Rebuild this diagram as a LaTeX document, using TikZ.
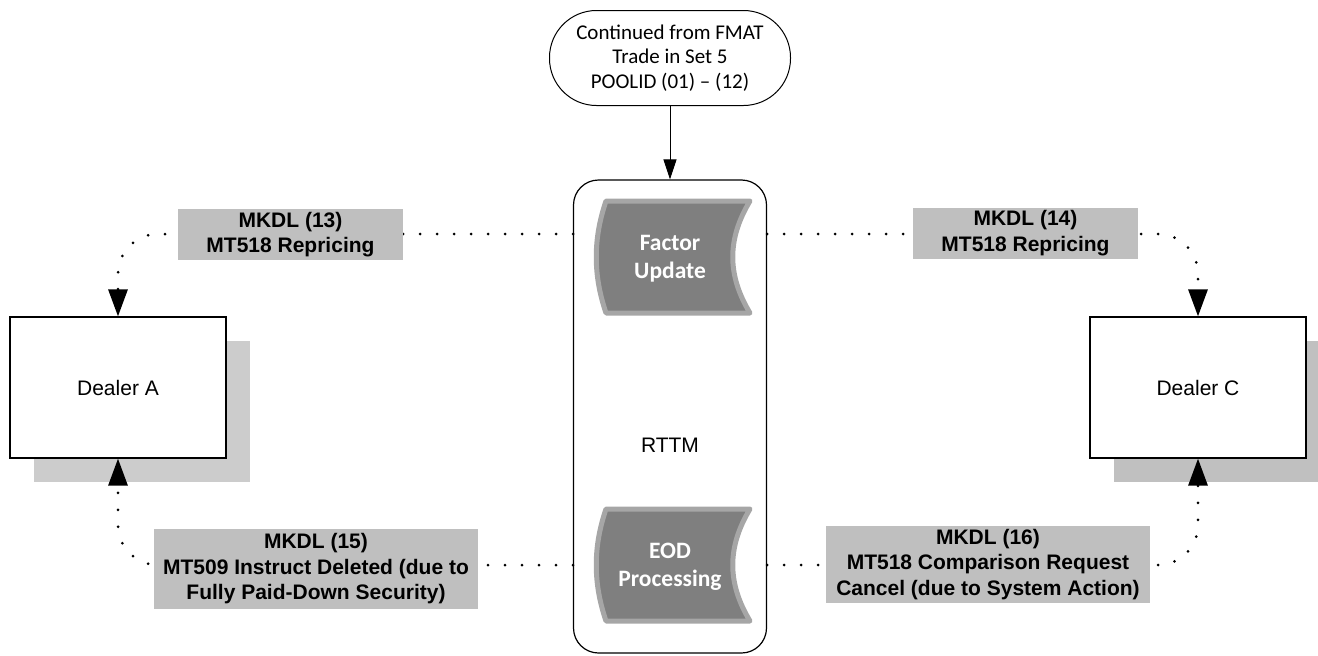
\documentclass[tikz,border=0pt]{standalone}
\usepackage{fontspec}
\setmainfont{Liberation Sans}
\newfontfamily\carlito{Carlito}
\usetikzlibrary{arrows.meta,shadows}
\definecolor{lblgray}{RGB}{191,191,191}
\definecolor{shadowA}{RGB}{204,204,204}
\definecolor{shadowC}{RGB}{192,192,192}
\definecolor{procfill}{RGB}{127,127,127}
\definecolor{procedge}{RGB}{166,166,166}

\tikzset{
  dealer/.style={draw, fill=white, line width=1.2pt, minimum width=216pt, minimum height=141pt,
    font=\fontsize{21}{25}\selectfont},
  msg/.style={fill=lblgray, align=center, inner sep=0pt, font=\bfseries\fontsize{21}{25.5}\selectfont},
  dots/.style={line width=3pt, line cap=round, dash pattern=on 0pt off 17pt, rounded corners=40pt,
    -{Triangle[length=27pt,width=19pt]}},
  proc/.style={draw=procedge, fill=procfill, line width=5pt, line join=round},
  proctext/.style={text=white, align=center, font=\carlito\bfseries\fontsize{23.5}{28}\selectfont}
}

\begin{document}
\begin{tikzpicture}[x=1pt, y=-1pt]
  \useasboundingbox (0,0) rectangle (1318,656);

  % start terminator and the RTTM lane
  \node[draw, line width=1pt, rounded corners=47pt, minimum width=241pt, minimum height=95pt, align=center,
    font=\carlito\fontsize{21}{24.5}\selectfont] (start) at (670,58) {Continued from FMAT\\Trade in Set 5\\POOLID (01) – (12)};
  \node[draw, line width=1.2pt, rounded corners=25pt, minimum width=193pt, minimum height=473pt] (rttm) at (670,416.5) {};
  \node[font=\fontsize{21}{25}\selectfont] (rttmlbl) at (670,445) {RTTM};
  \draw[line width=1pt, -{Triangle[length=20pt,width=13pt]}] (start) -- (rttm);

  % dealers
  \node[dealer, drop shadow={shadow xshift=24pt, shadow yshift=-24pt, fill=shadowA, opacity=1}] (dealerA) at (118,387.5) {Dealer A};
  \node[dealer, drop shadow={shadow xshift=24pt, shadow yshift=-24pt, fill=shadowC, opacity=1}] (dealerC) at (1198,387.5) {Dealer C};

  % stored data shapes
  \foreach \y/\nm/\txt in {259/factor/{Factor\\Update}, 567/eod/{EOD\\Processing}} {
    \draw[proc] (606,{\y-58}) -- (750,{\y-58}) .. controls (727,{\y-20}) and (727,{\y+16}) .. (750,{\y+54})
      -- (606,{\y+54}) .. controls (593,{\y+16}) and (593,{\y-20}) .. (606,{\y-58}) -- cycle;
    \node[proctext] (\nm) at (670,\y) {\txt};
  }

  % message flows
  \coordinate (tl) at (573,234);
  \coordinate (tr) at (767,234);
  \coordinate (bl) at (573,565);
  \coordinate (br) at (767,565);
  \draw[dots] (tl) -| (dealerA.north);
  \draw[dots] (tr) -| (dealerC.north);
  \draw[dots] (bl) -| (dealerA.south);
  \draw[dots] (br) -| (dealerC.south);

  \node[msg, minimum width=225pt, minimum height=51pt] (m13) at (290.5,234.5) {MKDL (13)\\MT518 Repricing};
  \node[msg, minimum width=225pt, minimum height=51pt] (m14) at (1025.5,233) {MKDL (14)\\MT518 Repricing};
  \node[msg, minimum width=324pt, minimum height=80pt] (m15) at (316,569) {MKDL (15)\\MT509 Instruct Deleted (due to\\Fully Paid-Down Security)};
  \node[msg, minimum width=324pt, minimum height=77pt] (m16) at (988,564.5) {MKDL (16)\\MT518 Comparison Request\\Cancel (due to System Action)};
\end{tikzpicture}
\end{document}
